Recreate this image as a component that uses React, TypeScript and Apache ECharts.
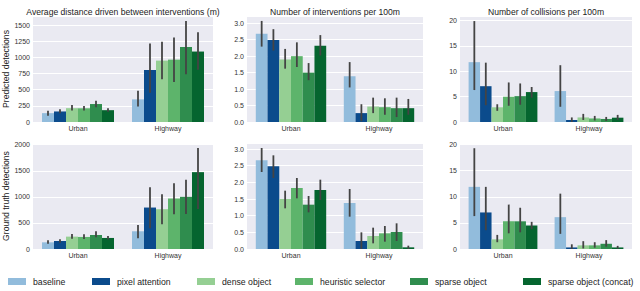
import React, { useEffect, useRef } from "react";
import * as echarts from "echarts";

const categories = ["Urban", "Highway"];
const models = ["baseline", "pixel attention", "dense object", "heuristic selector", "sparse object", "sparse object (concat)"];
const colors = ["#92bcdc", "#0b4b8c", "#95cf93", "#5db46b", "#2f8d4e", "#05652f"];

const titles = ["Average distance driven between interventions (m)", "Number of interventions per 100m", "Number of collisions per 100m"];
const rowLabels = ["Predicted detections", "Ground truth detections"];

// [model][category] = [Urban, Highway]
const predDistMean = [[137, 350], [163, 805], [214, 950], [212, 965], [278, 1160], [183, 1090]];
const predDistLo = [[97, 239], [137, 452], [178, 661], [178, 620], [229, 737], [158, 808]];
const predDistHi = [[173, 483], [198, 1215], [264, 1240], [249, 1307], [330, 1561], [214, 1388]];

const predIntMean = [[2.68, 1.39], [2.49, 0.27], [1.9, 0.47], [2.0, 0.45], [1.5, 0.42], [2.32, 0.42]];
const predIntLo = [[2.29, 1.05], [2.17, 0.02], [1.62, 0.27], [1.67, 0.22], [1.27, 0.15], [2.02, 0.22]];
const predIntHi = [[3.07, 1.82], [2.82, 0.54], [2.22, 0.74], [2.42, 0.72], [1.79, 0.74], [2.64, 0.7]];

const predColMean = [[11.8, 6.1], [7.06, 0.4], [2.9, 0.9], [5.0, 0.7], [5.1, 0.6], [5.9, 0.85]];
const predColLo = [[6.3, 3.0], [3.3, 0.0], [2.2, 0.4], [3.2, 0.3], [3.4, 0.2], [4.8, 0.4]];
const predColHi = [[19.9, 11.2], [11.7, 0.9], [3.5, 1.6], [7.8, 1.2], [7.6, 1.0], [6.9, 1.4]];

const gtDistMean = [[128, 340], [154, 795], [237, 763], [231, 968], [269, 1000], [212, 1474]];
const gtDistLo = [[100, 205], [120, 397], [195, 474], [190, 667], [225, 673], [180, 769]];
const gtDistHi = [[170, 462], [185, 1186], [290, 1051], [285, 1263], [340, 1327], [250, 1936]];

const gtIntMean = [[2.66, 1.38], [2.48, 0.24], [1.5, 0.39], [1.83, 0.47], [1.33, 0.51], [1.77, 0.05]];
const gtIntLo = [[2.31, 0.97], [2.13, 0.0], [1.22, 0.17], [1.52, 0.22], [1.1, 0.24], [1.47, 0.0]];
const gtIntHi = [[3.03, 1.8], [2.81, 0.5], [1.75, 0.64], [2.13, 0.69], [1.59, 0.77], [2.08, 0.1]];

const gtColMean = [[11.9, 6.1], [7.0, 0.3], [1.85, 0.7], [5.3, 0.7], [5.3, 1.0], [4.5, 0.3]];
const gtColLo = [[6.3, 2.9], [3.6, 0.0], [1.3, 0.1], [3.0, 0.25], [3.2, 0.45], [3.8, 0.05]];
const gtColHi = [[19.3, 10.6], [11.9, 0.9], [2.7, 1.5], [8.5, 1.3], [7.9, 1.7], [5.2, 0.6]];

const yMax = [1640, 3.22, 20.9, 2033, 3.18, 20.3];
const yInterval = [250, 0.5, 5, 500, 0.5, 5];
const yDecimals = [0, 1, 0, 0, 1, 0];

const panels = [
  { mean: predDistMean, lo: predDistLo, hi: predDistHi },
  { mean: predIntMean, lo: predIntLo, hi: predIntHi },
  { mean: predColMean, lo: predColLo, hi: predColHi },
  { mean: gtDistMean, lo: gtDistLo, hi: gtDistHi },
  { mean: gtIntMean, lo: gtIntLo, hi: gtIntHi },
  { mean: gtColMean, lo: gtColLo, hi: gtColHi },
];

const colLayout = [
  { left: 33, width: 180 },
  { left: 247, width: 176 },
  { left: 460, width: 172 },
];
const rowLayout = [
  { top: 16, height: 106 },
  { top: 143, height: 106 },
];
const legendLeft = [8, 92, 197, 295, 410, 523];

const FONT = "Liberation Sans, Arial, sans-serif";

export default function App() {
  const ref = useRef<HTMLDivElement>(null);
  useEffect(() => {
    if (!ref.current) return;
    const chart = echarts.init(ref.current, undefined, { renderer: "svg" });
    const grids: any[] = [];
    const xAxes: any[] = [];
    const yAxes: any[] = [];
    const series: any[] = [];
    const titleComps: any[] = [];
    panels.forEach((p, pi) => {
      const r = Math.floor(pi / 3);
      const c = pi % 3;
      grids.push({
        left: colLayout[c].left,
        width: colLayout[c].width,
        top: rowLayout[r].top,
        height: rowLayout[r].height,
        show: true,
        backgroundColor: "#eaeaf2",
        borderWidth: 0,
      });
      xAxes.push({
        type: "category",
        gridIndex: pi,
        data: categories,
        axisLine: { show: false },
        axisTick: { show: false },
        axisLabel: { color: "#333", fontSize: 7, fontFamily: FONT, margin: 3 },
        splitLine: { show: false },
      });
      const dec = yDecimals[pi];
      yAxes.push({
        type: "value",
        gridIndex: pi,
        min: 0,
        max: yMax[pi],
        interval: yInterval[pi],
        axisLine: { show: false },
        axisTick: { show: false },
        axisLabel: {
          color: "#333",
          fontSize: 7,
          fontFamily: FONT,
          margin: 3,
          showMaxLabel: false,
          formatter: (v: number) => v.toFixed(dec),
        },
        splitLine: { show: true, lineStyle: { color: "#ffffff", width: 1 } },
        name: c === 0 ? rowLabels[r] : "",
        nameLocation: "middle",
        nameGap: 17,
        nameTextStyle: { color: "#222", fontSize: 8.6, fontFamily: FONT },
      });
      if (r === 0) {
        titleComps.push({
          text: titles[c],
          left: colLayout[c].left + colLayout[c].width / 2,
          top: 7,
          padding: 0,
          textAlign: "center",
          textStyle: { color: "#222", fontSize: 8.6, fontWeight: "normal", fontFamily: FONT },
        });
      }
      models.forEach((m, mi) => {
        series.push({
          type: "bar",
          name: m,
          xAxisIndex: pi,
          yAxisIndex: pi,
          data: p.mean[mi],
          barGap: "0%",
          barCategoryGap: "20%",
          itemStyle: { color: colors[mi] },
          z: 2,
        });
      });
      const errData: number[][] = [];
      models.forEach((_, mi) => {
        categories.forEach((_, ci) => {
          errData.push([ci, mi, p.lo[mi][ci], p.hi[mi][ci]]);
        });
      });
      series.push({
        type: "custom",
        xAxisIndex: pi,
        yAxisIndex: pi,
        data: errData,
        encode: { x: 0, y: [2, 3] },
        z: 5,
        silent: true,
        renderItem: (params: any, api: any) => {
          const ci = api.value(0);
          const mi = api.value(1);
          const lo = api.value(2);
          const hi = api.value(3);
          const band = api.size([1, 0])[0];
          const bw = (band * 0.8) / 6;
          const p1 = api.coord([ci, lo]);
          const p2 = api.coord([ci, hi]);
          const x = p1[0] + (mi - 2.5) * bw;
          return {
            type: "line",
            shape: { x1: x, y1: p1[1], x2: x, y2: p2[1] },
            style: { stroke: "#444444", lineWidth: 1.8 },
          };
        },
      });
    });
    const legends = models.map((m, mi) => ({
      data: [m],
      left: legendLeft[mi],
      top: 277,
      padding: 0,
      icon: "rect",
      itemWidth: 18,
      itemHeight: 7,
      itemGap: 5,
      selectedMode: false,
      textStyle: { color: "#222", fontSize: 8.7, fontFamily: FONT, padding: [0, 0, 0, 2] },
    }));
    chart.setOption({
      animation: false,
      backgroundColor: "#ffffff",
      title: titleComps,
      grid: grids,
      xAxis: xAxes,
      yAxis: yAxes,
      legend: legends,
      series,
    });
    return () => chart.dispose();
  }, []);
  return <div ref={ref} style={{ position: "fixed", left: 0, top: 0, width: 640, height: 291 }} />;
}
